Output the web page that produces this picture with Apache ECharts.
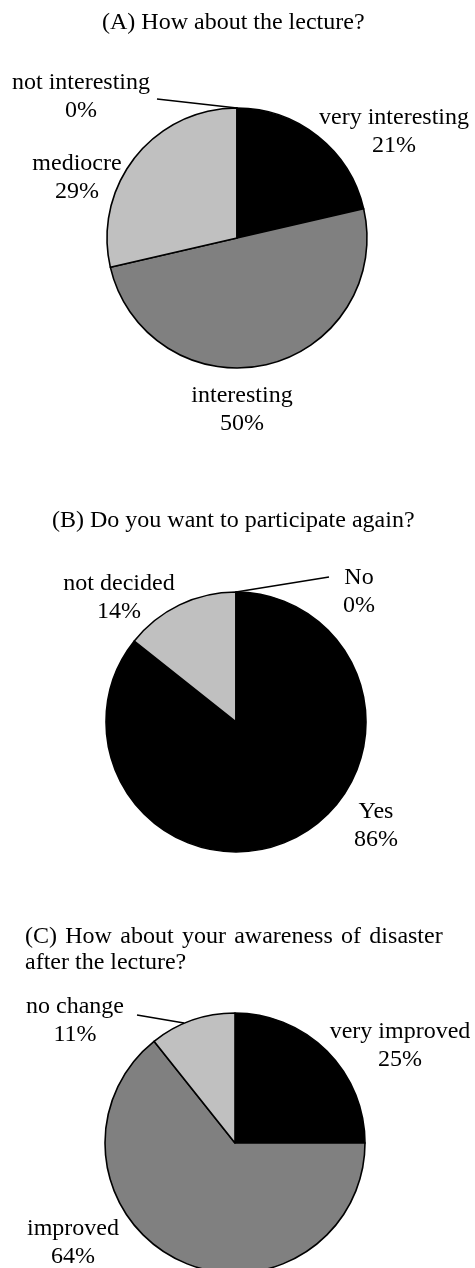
<!DOCTYPE html>
<html>
<head>
<meta charset="utf-8">
<script src="https://cdn.jsdelivr.net/npm/echarts@6/dist/echarts.min.js"></script>
<style>html,body{margin:0;padding:0;background:#fff}#chart{width:475px;height:1268px}</style>
</head>
<body>
<div id="chart"></div>
<script>
// ---- data ----
const titleA = '(A) How about the lecture?';
const titleB = '(B) Do you want to participate again?';
const titleCLine1Words = ['(C)', 'How', 'about', 'your', 'awareness', 'of', 'disaster'];
const titleCLine2 = 'after the lecture?';

const lectureCategories = ['very interesting', 'interesting', 'mediocre', 'not interesting'];
const lectureValues = [21.4, 50.0, 28.6, 0];

const againCategories = ['Yes', 'not decided', 'No'];
const againValues = [85.7, 14.3, 0];

const awarenessCategories = ['very improved', 'improved', 'no change'];
const awarenessValues = [25.0, 64.3, 10.7];

// ---- styles / layout ----
const FONT = "'Liberation Serif', 'Times New Roman', serif";
const colorsA = ['#000000', '#808080', '#c0c0c0', '#ffffff'];
const colorsB = ['#000000', '#c0c0c0', '#ffffff'];
const colorsC = ['#000000', '#808080', '#c0c0c0'];

const centers = [[237, 238], [236, 722], [235, 1143]];
const RADIUS = 130;

// label centres per series / data index
const labelPos = [
  [[394, 132], [242, 410], [77, 178], [81, 97]],
  [[376, 826], [119, 598], [359, 592]],
  [[400, 1046], [73, 1243], [75, 1021]]
];
// leader lines (only some labels have them)
const leaderLines = [
  { 3: [[237, 108], [157, 99]] },
  { 2: [[236, 592], [329, 577]] },
  { 2: [[184, 1023], [137, 1015]] }
];

function buildData(cats, vals, colors, sIdx) {
  return cats.map((c, i) => ({
    name: c,
    value: vals[i],
    itemStyle: { color: colors[i] },
    labelLine: { show: !!leaderLines[sIdx][i] }
  }));
}

function pieSeries(cats, vals, colors, sIdx) {
  return {
    type: 'pie',
    center: centers[sIdx],
    radius: RADIUS,
    startAngle: 90,
    clockwise: true,
    percentPrecision: 0,
    avoidLabelOverlap: false,
    animation: false,
    silent: true,
    emphasis: { disabled: true },
    itemStyle: { borderColor: '#000', borderWidth: 1.6 },
    label: {
      show: true,
      position: 'outside',
      formatter: '{b}\n{d}%',
      fontFamily: FONT,
      fontSize: 24,
      lineHeight: 28,
      color: '#000',
      align: 'center',
      overflow: 'none'
    },
    labelLine: { show: true, lineStyle: { color: '#000', width: 1.6 } },
    labelLayout: function (p) {
      const pos = labelPos[sIdx][p.dataIndex];
      const out = { x: pos[0], y: pos[1], align: 'center', verticalAlign: 'middle', width: 220 };
      const ll = leaderLines[sIdx][p.dataIndex];
      if (ll) out.labelLinePoints = ll;
      return out;
    },
    data: buildData(cats, vals, colors, sIdx)
  };
}

const titleStyle = { fontFamily: FONT, fontSize: 24, fontWeight: 'normal', color: '#000', lineHeight: 27 };
// justified first line of title C: wider word gaps
const titleC = titleCLine1Words.join('{s| }') + '\n' + titleCLine2;
const titleCStyle = Object.assign({}, titleStyle, {
  lineHeight: 26,
  rich: { s: { width: 8.3, fontFamily: FONT, fontSize: 24, lineHeight: 26 } }
});

const chart = echarts.init(document.getElementById('chart'), null, { renderer: 'canvas' });
chart.setOption({
  backgroundColor: '#fff',
  animation: false,
  title: [
    { text: titleA, left: 102, top: 9, padding: 0, textStyle: titleStyle },
    { text: titleB, left: 52, top: 507, padding: 0, textStyle: titleStyle },
    { text: titleC, left: 25, top: 924, padding: 0, textStyle: titleCStyle }
  ],
  series: [
    pieSeries(lectureCategories, lectureValues, colorsA, 0),
    pieSeries(againCategories, againValues, colorsB, 1),
    pieSeries(awarenessCategories, awarenessValues, colorsC, 2)
  ]
});
</script>
</body>
</html>
